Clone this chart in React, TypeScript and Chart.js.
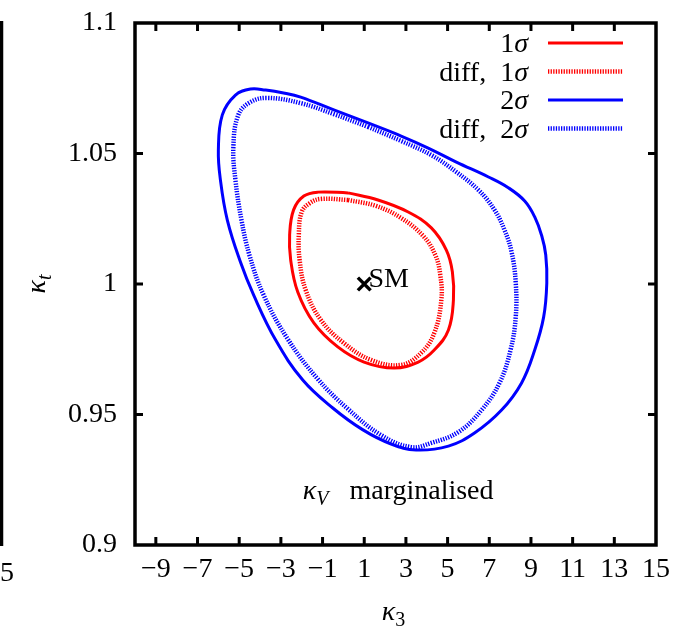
import React, { useEffect, useRef } from 'react';
import { Chart, registerables } from 'chart.js';

Chart.register(...registerables);

// ---------- data ----------
const X_TICKS = [-9, -7, -5, -3, -1, 1, 3, 5, 7, 9, 11, 13, 15];
const X_TICK_LABELS = ['−9', '−7', '−5', '−3', '−1', '1', '3', '5', '7', '9', '11', '13', '15'];
const Y_TICKS = [0.9, 0.95, 1, 1.05, 1.1];
const Y_TICK_LABELS = ['0.9', '0.95', '1', '1.05', '1.1'];

const SERIES_LABELS = ['1σ', 'diff,  1σ', '2σ', 'diff,  2σ'];

// 1σ contour (kappa_3, kappa_t)
const ONE_SIGMA_K3 = [0.22, 1.66, 3.11, 4.22, 4.94, 5.23, 5.28, 5.04, 4.36, 3.59, 2.43, 0.99, -0.27, -1.42, -2.19, -2.53, -2.58, -2.39, -1.9, -1.23, 0.22];
const ONE_SIGMA_KT = [1.0349, 1.0322, 1.0276, 1.0215, 1.013, 1.0046, 0.9939, 0.9824, 0.9747, 0.9701, 0.9678, 0.9701, 0.9759, 0.9851, 0.9969, 1.0092, 1.0188, 1.0284, 1.0337, 1.0352, 1.0349];

// diff, 1σ contour
const DIFF_ONE_SIGMA_K3 = [0.22, 1.57, 2.77, 3.83, 4.41, 4.65, 4.7, 4.36, 3.73, 2.77, 1.33, 0.02, -1.08, -1.81, -2.1, -2.14, -2.0, -1.61, -1.08, 0.22];
const DIFF_ONE_SIGMA_KT = [1.0322, 1.0299, 1.0253, 1.0184, 1.0111, 1.0034, 0.9939, 0.9812, 0.9736, 0.969, 0.9709, 0.9774, 0.9862, 0.9977, 1.0092, 1.0188, 1.0276, 1.031, 1.0326, 1.0322];

// 2σ contour
const TWO_SIGMA_K3 = [1.18, 2.77, 4.07, 5.42, 6.96, 7.93, 8.7, 9.18, 9.52, 9.71, 9.76, 9.61, 9.18, 8.55, 7.59, 6.29, 5.04, 3.49, 2.29, 0.94, -0.51, -1.95, -3.25, -4.31, -4.94, -5.57, -5.9, -6.0, -5.81, -5.18, -4.46, -3.73, -2.87, -2.05, -0.46, 1.18];
const TWO_SIGMA_KT = [1.0617, 1.0567, 1.0521, 1.0467, 1.041, 1.0368, 1.0318, 1.0257, 1.0184, 1.0111, 1.0004, 0.9874, 0.9747, 0.9621, 0.9517, 0.9429, 0.9379, 0.9364, 0.9387, 0.9441, 0.9525, 0.9632, 0.9785, 0.9958, 1.0084, 1.0245, 1.0398, 1.0513, 1.0648, 1.0724, 1.0747, 1.0743, 1.0732, 1.0716, 1.0667, 1.0617];

// diff, 2σ contour
const DIFF_TWO_SIGMA_K3 = [1.18, 2.77, 4.22, 5.42, 6.48, 7.25, 7.73, 8.07, 8.27, 8.27, 8.02, 7.49, 6.63, 5.52, 4.22, 3.25, 1.81, 0.22, -1.23, -2.67, -3.83, -4.51, -4.89, -5.18, -5.28, -5.04, -4.46, -3.64, -2.05, -0.46, 1.18];
const DIFF_TWO_SIGMA_KT = [1.0602, 1.0548, 1.0494, 1.0429, 1.036, 1.0284, 1.0207, 1.0123, 1.0004, 0.9874, 0.9747, 0.9621, 0.9517, 0.9433, 0.9391, 0.9375, 0.9421, 0.9521, 0.9636, 0.9789, 0.9958, 1.0111, 1.0245, 1.0398, 1.0525, 1.0648, 1.0697, 1.0713, 1.0693, 1.0651, 1.0602];

const SM_POINT_K3 = [1];
const SM_POINT_KT = [1];

const SM_LABEL = 'SM';
const SM_LABEL_POS = [1.2, 0.9989];
const NOTE_POS = [-1.95, 0.9176];

const FONT = '"Liberation Serif", "DejaVu Serif", serif';
const FONT_SIZE = 28;
const RED = '#ff0000';
const BLUE = '#0000ff';

type Run = { t: string; i?: boolean; sub?: boolean };

function runFont(r: Run, size: number) {
  const s = r.sub ? Math.round(size * 0.7) : size;
  return `${r.i ? 'italic ' : ''}${s}px ${FONT}`;
}
function measureRuns(ctx: CanvasRenderingContext2D, runs: Run[], size: number) {
  let w = 0;
  for (const r of runs) {
    ctx.font = runFont(r, size);
    w += ctx.measureText(r.t).width;
  }
  return w;
}
function drawRuns(ctx: CanvasRenderingContext2D, runs: Run[], x: number, y: number, size: number) {
  let cx = x;
  ctx.textBaseline = 'alphabetic';
  ctx.textAlign = 'left';
  for (const r of runs) {
    ctx.font = runFont(r, size);
    ctx.fillText(r.t, cx, y + (r.sub ? size * 0.22 : 0));
    cx += ctx.measureText(r.t).width;
  }
  return cx - x;
}
function labelRuns(label: string): Run[] {
  const runs: Run[] = [];
  for (const ch of label) {
    const it = ch === 'σ';
    const last = runs[runs.length - 1];
    if (last && !!last.i === it) last.t += ch;
    else runs.push({ t: ch, i: it });
  }
  return runs;
}

function toPts(xs: number[], ys: number[]) {
  return xs.map((x, k) => ({ x, y: ys[k] }));
}

const decorPlugin = {
  id: 'decor',
  afterDraw(chart: any) {
    const ctx: CanvasRenderingContext2D = chart.ctx;
    const { left, right, top, bottom } = chart.chartArea;
    const xs = chart.scales.x;
    const ys = chart.scales.y;
    ctx.save();
    ctx.strokeStyle = '#000';
    ctx.fillStyle = '#000';
    // frame
    ctx.lineWidth = 3.5;
    ctx.strokeRect(left, top, right - left, bottom - top);
    // ticks (inward, mirrored)
    ctx.lineWidth = 3;
    const tl = 8;
    ctx.beginPath();
    for (const v of X_TICKS) {
      const px = xs.getPixelForValue(v);
      if (px > right - 2) continue;
      ctx.moveTo(px, bottom);
      ctx.lineTo(px, bottom - tl);
      ctx.moveTo(px, top);
      ctx.lineTo(px, top + tl);
    }
    for (const v of Y_TICKS) {
      const py = ys.getPixelForValue(v);
      if (py < top + 2 || py > bottom - 2) continue;
      ctx.moveTo(left, py);
      ctx.lineTo(left + tl, py);
      ctx.moveTo(right, py);
      ctx.lineTo(right - tl, py);
    }
    ctx.stroke();

    // neighbouring panel fragment
    ctx.lineWidth = 3.5;
    ctx.beginPath();
    ctx.moveTo(1.5, top - 2);
    ctx.lineTo(1.5, bottom + 1);
    ctx.stroke();
    ctx.font = `${FONT_SIZE}px ${FONT}`;
    ctx.textAlign = 'right';
    ctx.textBaseline = 'alphabetic';
    ctx.fillText('15', 14, 581);

    // legend
    const size = FONT_SIZE;
    const textRight = right - 128;
    const lineX0 = right - 108;
    const lineX1 = right - 33;
    const rowY0 = top + 20;
    const rowH = 28.5;
    SERIES_LABELS.forEach((lab, k) => {
      const ds = chart.data.datasets[k];
      const cy = rowY0 + k * rowH;
      const runs = labelRuns(lab);
      const w = measureRuns(ctx, runs, size);
      ctx.fillStyle = '#000';
      drawRuns(ctx, runs, textRight - w, cy + 9, size);
      ctx.save();
      ctx.strokeStyle = ds.borderColor;
      ctx.lineWidth = ds.borderWidth;
      ctx.setLineDash(ds.borderDash || []);
      ctx.beginPath();
      ctx.moveTo(lineX0, cy);
      ctx.lineTo(lineX1, cy);
      ctx.stroke();
      ctx.restore();
    });

    // SM label
    ctx.fillStyle = '#000';
    drawRuns(ctx, [{ t: SM_LABEL }], xs.getPixelForValue(SM_LABEL_POS[0]), ys.getPixelForValue(SM_LABEL_POS[1]), FONT_SIZE);
    // kappa_V marginalised
    drawRuns(
      ctx,
      [{ t: 'κ', i: true }, { t: 'V', i: true, sub: true }, { t: '   marginalised' }],
      xs.getPixelForValue(NOTE_POS[0]),
      ys.getPixelForValue(NOTE_POS[1]),
      FONT_SIZE
    );
    // x axis title
    const xt: Run[] = [{ t: 'κ', i: true }, { t: '3', sub: true }];
    const xw = measureRuns(ctx, xt, FONT_SIZE);
    drawRuns(ctx, xt, (left + right) / 2 - xw / 2 - 2, 620, FONT_SIZE);
    // y axis title
    const yt: Run[] = [{ t: 'κ', i: true }, { t: 't', i: true, sub: true }];
    const yw = measureRuns(ctx, yt, FONT_SIZE);
    ctx.save();
    ctx.translate(45, (top + bottom) / 2 + yw / 2);
    ctx.rotate(-Math.PI / 2);
    drawRuns(ctx, yt, 0, 0, FONT_SIZE);
    ctx.restore();

    ctx.restore();
  },
};

export default function App() {
  const ref = useRef<HTMLCanvasElement | null>(null);
  useEffect(() => {
    if (!ref.current) return;
    const common = { showLine: true, pointRadius: 0, tension: 0.4, fill: false };
    const chart = new Chart(ref.current, {
      type: 'scatter',
      data: {
        datasets: [
          { ...common, label: SERIES_LABELS[0], data: toPts(ONE_SIGMA_K3, ONE_SIGMA_KT), borderColor: RED, borderWidth: 3 },
          { ...common, label: SERIES_LABELS[1], data: toPts(DIFF_ONE_SIGMA_K3, DIFF_ONE_SIGMA_KT), borderColor: RED, borderWidth: 4.5, borderDash: [1.3, 1.3] },
          { ...common, label: SERIES_LABELS[2], data: toPts(TWO_SIGMA_K3, TWO_SIGMA_KT), borderColor: BLUE, borderWidth: 3 },
          { ...common, label: SERIES_LABELS[3], data: toPts(DIFF_TWO_SIGMA_K3, DIFF_TWO_SIGMA_KT), borderColor: BLUE, borderWidth: 4.5, borderDash: [1.3, 1.3] },
          {
            label: 'SM',
            data: toPts(SM_POINT_K3, SM_POINT_KT),
            showLine: false,
            pointStyle: 'crossRot',
            pointRadius: 9,
            borderColor: '#000',
            borderWidth: 3.5,
          },
        ],
      } as any,
      options: {
        animation: false,
        responsive: false,
        maintainAspectRatio: false,
        events: [],
        layout: { padding: { top: 23, right: 39, left: 0, bottom: 0 } },
        plugins: { legend: { display: false }, tooltip: { enabled: false } },
        scales: {
          x: {
            type: 'linear',
            min: -10,
            max: 15,
            grid: { display: false, drawTicks: false },
            border: { display: false },
            afterBuildTicks: (s: any) => {
              s.ticks = X_TICKS.map((v) => ({ value: v }));
            },
            afterFit: (s: any) => {
              s.height = 86;
              s.paddingLeft = 0;
              s.paddingRight = 0;
            },
            ticks: {
              autoSkip: false,
              maxRotation: 0,
              padding: 8,
              color: '#000',
              font: { family: FONT, size: FONT_SIZE },
              callback: (v: any) => X_TICK_LABELS[X_TICKS.indexOf(Number(v))],
            },
          },
          y: {
            type: 'linear',
            min: 0.9,
            max: 1.1,
            grid: { display: false, drawTicks: false },
            border: { display: false },
            afterBuildTicks: (s: any) => {
              s.ticks = Y_TICKS.map((v) => ({ value: v }));
            },
            afterFit: (s: any) => {
              s.width = 135;
              s.paddingTop = 0;
              s.paddingBottom = 0;
            },
            ticks: {
              autoSkip: false,
              padding: 18,
              color: '#000',
              font: { family: FONT, size: FONT_SIZE },
              callback: (v: any) => {
                const k = Y_TICKS.findIndex((t) => Math.abs(t - Number(v)) < 1e-9);
                return k >= 0 ? Y_TICK_LABELS[k] : '';
              },
            },
          },
        },
      } as any,
      plugins: [decorPlugin],
    });
    return () => chart.destroy();
  }, []);

  return (
    <div style={{ position: 'absolute', left: 0, top: 0, width: 695, height: 631, background: '#fff' }}>
      <canvas ref={ref} width={695} height={631} style={{ display: 'block' }} />
    </div>
  );
}
